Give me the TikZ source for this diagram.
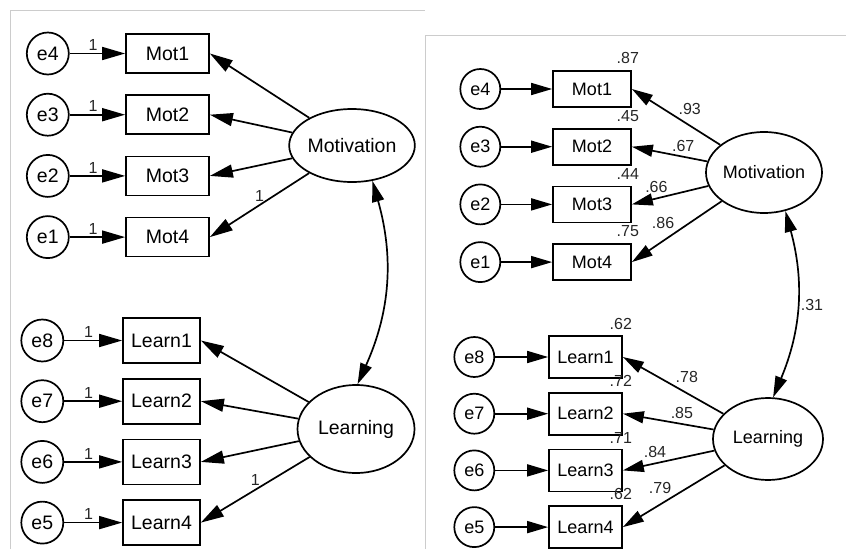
\documentclass[tikz,border=0pt]{standalone}
\usepackage{fontspec}
\setmainfont{Liberation Sans}
\usetikzlibrary{positioning,shapes.geometric,arrows.meta}

\begin{document}
\begin{tikzpicture}[x=1pt, y=1pt,
    obs/.style = {draw, rectangle, line width=1.7pt, inner sep=0pt},
    lat/.style = {draw, ellipse, line width=1.7pt, inner sep=0pt},
    err/.style = {draw, circle, line width=1.7pt, inner sep=0pt},
    reg/.style = {-{Triangle[length=23pt, width=13pt]}, line width=1.7pt},
    cov/.style = {{Triangle[length=21pt, width=12pt]}-{Triangle[length=21pt, width=12pt]}, line width=1.7pt},
    coef/.style = {inner sep=1pt, text=black!85},
    panel/.style = {draw=black!20, line width=1pt}]

  \useasboundingbox (0,0) rectangle (846,-549);

  % frames of the two screenshots
  \draw[panel] (10,-549) -- (10,-10) -- (425,-10);
  \draw[panel] (425,-549) -- (425,-35) -- (846,-35);

  % unstandardized, motivation
  \begin{scope}[font=\fontsize{19.5}{20}\selectfont,
      obs/.append style={minimum width=83pt, minimum height=39pt},
      err/.append style={minimum size=42pt},
      coef/.append style={font=\fontsize{16}{16}\selectfont}]
    \node (lmot1) [obs] at (167.5,-53.5) {Mot1};
    \node (lmot2) [obs, below=20.5pt of lmot1] {Mot2};
    \node (lmot3) [obs, below=20.5pt of lmot2] {Mot3};
    \node (lmot4) [obs, below=20.5pt of lmot3] {Mot4};
    \node (le4) [err, left=55.5pt of lmot1] {e4};
    \node (le3) [err, left=55.5pt of lmot2] {e3};
    \node (le2) [err, left=55.5pt of lmot3] {e2};
    \node (le1) [err, left=55.5pt of lmot4] {e1};
    \node (lmotiv) [lat, minimum width=118pt, minimum height=73pt] at (352,-145.5) {Motivation};

    \path[reg] (le4) edge node[coef, pos=0.42, above=1pt] (lw4) {1} (lmot1);
    \path[reg] (le3) edge node[coef, pos=0.42, above=1pt] (lw3) {1} (lmot2);
    \path[reg] (le2) edge node[coef, pos=0.42, above=1pt] (lw2) {1} (lmot3);
    \path[reg] (le1) edge node[coef, pos=0.42, above=1pt] (lw1) {1} (lmot4);

    \path[reg] (lmotiv) edge (lmot1.east);
    \path[reg] (lmotiv) edge (lmot2.east);
    \path[reg] (lmotiv) edge (lmot3.east);
    \path[reg] (lmotiv) edge node[coef, above=2pt] (lfix1) {1} (lmot4.east);
  \end{scope}

  % unstandardized, learning
  \begin{scope}[font=\fontsize{19.5}{20}\selectfont,
      obs/.append style={minimum width=77pt, minimum height=45pt},
      err/.append style={minimum size=42pt},
      coef/.append style={font=\fontsize{16}{16}\selectfont}]
    \node (llrn1) [obs] at (161.5,-340.5) {Learn1};
    \node (llrn2) [obs, below=14pt of llrn1] {Learn2};
    \node (llrn3) [obs, below=14pt of llrn2] {Learn3};
    \node (llrn4) [obs, below=14pt of llrn3] {Learn4};
    \node (le8) [err, left=58pt of llrn1] {e8};
    \node (le7) [err, left=58pt of llrn2] {e7};
    \node (le6) [err, left=58pt of llrn3] {e6};
    \node (le5) [err, left=58pt of llrn4] {e5};
    \node (llearn) [lat, minimum width=117pt, minimum height=88pt] at (356,-429) {Learning};

    \path[reg] (le8) edge node[coef, pos=0.42, above=1pt] (lw8) {1} (llrn1);
    \path[reg] (le7) edge node[coef, pos=0.42, above=1pt] (lw7) {1} (llrn2);
    \path[reg] (le6) edge node[coef, pos=0.42, above=1pt] (lw6) {1} (llrn3);
    \path[reg] (le5) edge node[coef, pos=0.42, above=1pt] (lw5) {1} (llrn4);

    \path[reg] (llearn) edge (llrn1.east);
    \path[reg] (llearn) edge (llrn2.east);
    \path[reg] (llearn) edge (llrn3.east);
    \path[reg] (llearn) edge node[coef, above=2pt] (lfix2) {1} (llrn4.east);
  \end{scope}

  \path[cov] (lmotiv.300) edge[bend left=20] (llearn.88);

  % standardized, motivation
  \begin{scope}[font=\fontsize{18}{18}\selectfont,
      obs/.append style={minimum width=78pt, minimum height=36pt},
      err/.append style={minimum size=40pt},
      reg/.style={-{Triangle[length=21pt, width=12pt]}, line width=1.7pt},
      coef/.append style={font=\fontsize{16}{16}\selectfont}]
    \node (rmot1) [obs] at (592,-89) {Mot1};
    \node (rmot2) [obs, below=20pt of rmot1] {Mot2};
    \node (rmot3) [obs, below=20pt of rmot2] {Mot3};
    \node (rmot4) [obs, below=20pt of rmot3] {Mot4};
    \node (re4) [err, left=51pt of rmot1] {e4};
    \node (re3) [err, left=51pt of rmot2] {e3};
    \node (re2) [err, left=51pt of rmot3] {e2};
    \node (re1) [err, left=51pt of rmot4] {e1};
    \node (rmotiv) [lat, minimum width=108pt, minimum height=81pt] at (764,-172.5) {Motivation};

    \node (rsq1) [coef, above=5pt of rmot1.north east, xshift=-4pt] {.87};
    \node (rsq2) [coef, above=5pt of rmot2.north east, xshift=-4pt] {.45};
    \node (rsq3) [coef, above=5pt of rmot3.north east, xshift=-4pt] {.44};
    \node (rsq4) [coef, above=5pt of rmot4.north east, xshift=-4pt] {.75};

    \path[reg] (re4) edge (rmot1);
    \path[reg] (re3) edge (rmot2);
    \path[reg] (re2) edge (rmot3);
    \path[reg] (re1) edge (rmot4);

    \path[reg] (rmotiv) edge node[coef, above right=1pt] (rld1) {.93} (rmot1.east);
    \path[reg] (rmotiv) edge node[coef, above right=1pt] (rld2) {.67} (rmot2.east);
    \path[reg] (rmotiv) edge node[coef, above left=1pt] (rld3) {.66} (rmot3.east);
    \path[reg] (rmotiv) edge node[coef, above left=1pt] (rld4) {.86} (rmot4.east);
  \end{scope}

  % standardized, learning
  \begin{scope}[font=\fontsize{18}{18}\selectfont,
      obs/.append style={minimum width=73pt, minimum height=42pt},
      err/.append style={minimum size=40pt},
      reg/.style={-{Triangle[length=21pt, width=12pt]}, line width=1.7pt},
      coef/.append style={font=\fontsize{16}{16}\selectfont}]
    \node (rlrn1) [obs] at (585.5,-357) {Learn1};
    \node (rlrn2) [obs, below=13pt of rlrn1] {Learn2};
    \node (rlrn3) [obs, below=13pt of rlrn2] {Learn3};
    \node (rlrn4) [obs, below=13pt of rlrn3] {Learn4};
    \node (re8) [err, left=53pt of rlrn1] {e8};
    \node (re7) [err, left=53pt of rlrn2] {e7};
    \node (re6) [err, left=53pt of rlrn3] {e6};
    \node (re5) [err, left=53pt of rlrn4] {e5};
    \node (rlearn) [lat, minimum width=110pt, minimum height=82pt] at (768,-439) {Learning};

    \node (rsq5) [coef, above=4pt of rlrn1.north east, xshift=-2pt] {.62};
    \node (rsq6) [coef, above=4pt of rlrn2.north east, xshift=-2pt] {.72};
    \node (rsq7) [coef, above=4pt of rlrn3.north east, xshift=-2pt] {.71};
    \node (rsq8) [coef, above=4pt of rlrn4.north east, xshift=-2pt] {.62};

    \path[reg] (re8) edge (rlrn1);
    \path[reg] (re7) edge (rlrn2);
    \path[reg] (re6) edge (rlrn3);
    \path[reg] (re5) edge (rlrn4);

    \path[reg] (rlearn) edge node[coef, above right=1pt] (rld5) {.78} (rlrn1.east);
    \path[reg] (rlearn) edge node[coef, above right=1pt] (rld6) {.85} (rlrn2.east);
    \path[reg] (rlearn) edge node[coef, above left=1pt] (rld7) {.84} (rlrn3.east);
    \path[reg] (rlearn) edge node[coef, above left=1pt] (rld8) {.79} (rlrn4.east);

    \path[cov] (rmotiv.299) edge[bend left=19] node[coef, right=2pt] (rcor) {.31} (rlearn.83);
  \end{scope}
\end{tikzpicture}
\end{document}
